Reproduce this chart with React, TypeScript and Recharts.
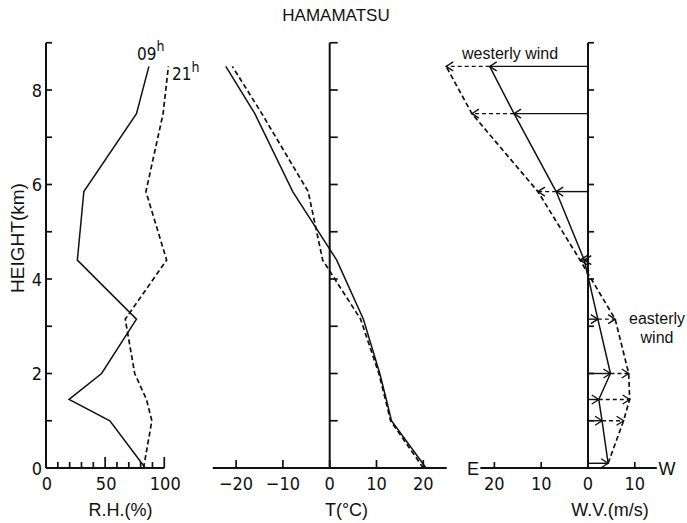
import React from 'react';
import { ScatterChart, Scatter, XAxis, YAxis, ReferenceLine } from 'recharts';

// sounding levels (km)
const levels = [0, 1, 1.45, 2, 3.15, 4.4, 5.85, 7.5, 8.5];
const windLevels = [0.1, 1, 1.45, 2, 3.15, 4.4, 5.85, 7.5, 8.5];

// relative humidity (%)
const rh09 = [84, 54, 19.5, 47, 76.5, 26.5, 32, 76.5, 87];
const rh21 = [82.5, 89.5, 85, 75, 67, 102, 84.5, 99, 103.5];

// temperature (°C)
const t09 = [20.6, 13.2, 12.1, 10.7, 7.2, 1.5, -7.9, -16, -22.2];
const t21 = [20, 13, 11.9, 10.5, 6.6, -1.5, -4.6, -14.5, -20.8];

// wind velocity (m/s), negative = westerly (arrow toward E)
const wv09 = [4.3, 3, 2.3, 4.8, 2.1, -0.8, -6.8, -15.8, -21];
const wv21 = [4.3, 7.6, 8.9, 8.7, 5.8, -1.7, -10.7, -24.8, -30.3];

const heightTicks = [0, 1, 2, 3, 4, 5, 6, 7, 8, 9];
const rhTicks = [0, 10, 20, 30, 40, 50, 60, 70, 80, 90, 100];
const tTicks = [-20, -10, 0, 10, 20];
const wvTicks = [-20, -10, 0, 10];

const INK = '#111';
const NARROW = "'Liberation Sans Narrow', 'DejaVu Sans Condensed', 'Liberation Sans', sans-serif";
const SANS = "'Liberation Sans', Arial, sans-serif";

const pts = (xs: number[], ys: number[]) => xs.map((x, i) => ({ x, y: ys[i] }));

const NoDot = () => <g />;

const fmt = (v: number) => (v < 0 ? `\u2212${Math.abs(v)}` : `${v}`);

// arrowhead at the tip of a wind vector
const Chevron = (props: any) => {
  const { cx, cy, payload } = props;
  const d = payload.dir;
  if (!d || cx == null) return <g />;
  const len = 7;
  const half = 4.5;
  return (
    <path
      d={`M${cx - d * len},${cy - half}L${cx},${cy}L${cx - d * len},${cy + half}`}
      fill="none"
      stroke={INK}
      strokeWidth={1.4}
    />
  );
};

const tickMark = (len: number) => (props: any) => {
  const { cx, cy } = props;
  return <line x1={cx} y1={cy} x2={cx + len} y2={cy} stroke={INK} strokeWidth={1.7} />;
};

const HeightTick = (props: any) => {
  const { x, y, payload } = props;
  const v = payload.value;
  return (
    <g>
      {v > 0 && <line x1={x} y1={y} x2={x + 6} y2={y} stroke={INK} strokeWidth={1.7} />}
      {v % 2 === 0 && v < 9 && (
        <text x={x - 4} y={y} textAnchor="end" dominantBaseline="central" fontFamily={NARROW} fontSize={18} fill={INK}>
          {v}
        </text>
      )}
    </g>
  );
};

const RhTick = (props: any) => {
  const { x, y, payload } = props;
  const v = payload.value;
  const major = v % 50 === 0;
  return (
    <g>
      <line x1={x} y1={y} x2={x} y2={y - (major ? 11 : 6)} stroke={INK} strokeWidth={1.7} />
      {major && (
        <text x={x + 1} y={y + 15} textAnchor="middle" dominantBaseline="central" fontFamily={NARROW} fontSize={18} fill={INK}>
          {v}
        </text>
      )}
    </g>
  );
};

const TTick = (props: any) => {
  const { x, y, payload } = props;
  const v = payload.value;
  return (
    <g>
      <line x1={x} y1={y} x2={x} y2={y - 8} stroke={INK} strokeWidth={1.7} />
      <text x={x} y={y + 15} textAnchor="middle" dominantBaseline="central" fontFamily={NARROW} fontSize={18} fill={INK}>
        {fmt(v)}
      </text>
    </g>
  );
};

const WvTick = (props: any) => {
  const { x, y, payload } = props;
  const v = payload.value;
  return (
    <g>
      <line x1={x} y1={y} x2={x} y2={y - 6} stroke={INK} strokeWidth={1.7} />
      <text x={x} y={y + 15} textAnchor="middle" dominantBaseline="central" fontFamily={NARROW} fontSize={18} fill={INK}>
        {Math.abs(v)}
      </text>
    </g>
  );
};

const solidLine = { stroke: INK, strokeWidth: 1.5 };
const dashedLine = { stroke: INK, strokeWidth: 1.7, strokeDasharray: '5 3' };

const vAxisTicks = heightTicks.filter((h) => h > 0).map((h) => ({ x: 0, y: h }));

const App = () => {
  const wvHeads09 = windLevels.map((h, i) => ({ x: wv09[i], y: h, dir: Math.sign(wv09[i]) }));
  const wvHeads21 = windLevels.map((h, i) => ({
    x: wv21[i],
    y: h,
    dir: Math.abs(wv21[i] - wv09[i]) > 0.5 ? Math.sign(wv21[i] - wv09[i]) : 0,
  }));

  return (
    <div style={{ position: 'absolute', left: 0, top: 0, width: 687, height: 523, background: '#fff' }}>
      {/* R.H. panel */}
      <div style={{ position: 'absolute', left: 0, top: 0 }}>
        <ScatterChart width={200} height={523} margin={{ top: 42.75, right: 23.9, bottom: 25, left: 0 }}>
          <XAxis type="number" dataKey="x" domain={[0, 110]} ticks={rhTicks} interval={0}
            tickSize={0} tickMargin={0} axisLine={false} tick={RhTick} height={30} />
          <YAxis type="number" dataKey="y" domain={[0, 9]} ticks={heightTicks} interval={0}
            tickSize={0} tickMargin={0} width={46} axisLine={{ stroke: INK, strokeWidth: 2 }} tick={HeightTick} />
          <ReferenceLine segment={[{ x: 0, y: 0 }, { x: 100, y: 0 }]} stroke={INK} strokeWidth={2} />
          <Scatter data={pts(rh09, levels)} line={solidLine} shape={NoDot} isAnimationActive={false} />
          <Scatter data={pts(rh21, levels)} line={dashedLine} shape={NoDot} isAnimationActive={false} />
        </ScatterChart>
      </div>

      {/* temperature panel */}
      <div style={{ position: 'absolute', left: 200, top: 0 }}>
        <ScatterChart width={260} height={523} margin={{ top: 42.75, right: 13.3, bottom: 25, left: 12.7 }}>
          <XAxis type="number" dataKey="x" domain={[-25, 25]} ticks={tTicks} interval={0}
            tickSize={0} tickMargin={0} axisLine={{ stroke: INK, strokeWidth: 2 }} tick={TTick} height={30} />
          <YAxis type="number" dataKey="y" domain={[0, 9]} hide />
          <ReferenceLine segment={[{ x: 0, y: 0 }, { x: 0, y: 9 }]} stroke={INK} strokeWidth={2} />
          <Scatter data={vAxisTicks} shape={tickMark(8)} isAnimationActive={false} />
          <Scatter data={pts(t09, levels)} line={solidLine} shape={NoDot} isAnimationActive={false} />
          <Scatter data={pts(t21, levels)} line={dashedLine} shape={NoDot} isAnimationActive={false} />
        </ScatterChart>
      </div>

      {/* wind panel */}
      <div style={{ position: 'absolute', left: 430, top: 0 }}>
        <ScatterChart width={257} height={523} margin={{ top: 42.75, right: 24.1, bottom: 25, left: 8.2 }}>
          <XAxis type="number" dataKey="x" domain={[-32, 16]} ticks={wvTicks} interval={0}
            tickSize={0} tickMargin={0} axisLine={false} tick={WvTick} height={30} />
          <YAxis type="number" dataKey="y" domain={[0, 9]} hide />
          <ReferenceLine segment={[{ x: -23, y: 0 }, { x: 14.7, y: 0 }]} stroke={INK} strokeWidth={2} />
          <ReferenceLine segment={[{ x: 0, y: 0 }, { x: 0, y: 9 }]} stroke={INK} strokeWidth={2} />
          <Scatter data={vAxisTicks} shape={tickMark(6)} isAnimationActive={false} />
          {windLevels.map((h, i) => (
            <ReferenceLine key={`s${i}`} segment={[{ x: 0, y: h }, { x: wv09[i], y: h }]} stroke={INK} strokeWidth={1.4} />
          ))}
          {windLevels.map((h, i) => (
            <ReferenceLine key={`d${i}`} segment={[{ x: wv09[i], y: h }, { x: wv21[i], y: h }]}
              stroke={INK} strokeWidth={1.4} strokeDasharray="4 3" />
          ))}
          <Scatter data={wvHeads09} shape={Chevron} isAnimationActive={false} />
          <Scatter data={wvHeads21} shape={Chevron} isAnimationActive={false} />
          <Scatter data={pts(wv09, windLevels)} line={solidLine} shape={NoDot} isAnimationActive={false} />
          <Scatter data={pts(wv21, windLevels)} line={dashedLine} shape={NoDot} isAnimationActive={false} />
        </ScatterChart>
      </div>

      {/* titles and annotations */}
      <svg width={687} height={523} style={{ position: 'absolute', left: 0, top: 0, pointerEvents: 'none' }}>
        <g fill={INK}>
          <text x={336} y={20.5} textAnchor="middle" fontFamily={SANS} fontSize={17}>HAMAMATSU</text>
          <text x={17} y={238} textAnchor="middle" dominantBaseline="central" fontFamily={SANS} fontSize={19}
            transform="rotate(-90 17 238)">HEIGHT(km)</text>
          <text x={120.5} y={510} textAnchor="middle" dominantBaseline="central" fontFamily={SANS} fontSize={18}>R.H.(%)</text>
          <text x={346.5} y={510} textAnchor="middle" dominantBaseline="central" fontFamily={SANS} fontSize={18}>T(°C)</text>
          <text x={610} y={510} textAnchor="middle" dominantBaseline="central" fontFamily={SANS} fontSize={18}>W.V.(m/s)</text>
          <text x={137} y={60} fontFamily={NARROW} fontSize={17}>09<tspan dy={-9} fontSize={14}>h</tspan></text>
          <text x={172} y={80} fontFamily={NARROW} fontSize={17}>21<tspan dy={-8} fontSize={14}>h</tspan></text>
          <text x={462} y={59} fontFamily={SANS} fontSize={16}>westerly wind</text>
          <text x={657} y={324} textAnchor="middle" fontFamily={SANS} fontSize={16}>easterly</text>
          <text x={657} y={343} textAnchor="middle" fontFamily={SANS} fontSize={16}>wind</text>
          <text x={473} y={469} textAnchor="middle" dominantBaseline="central" fontFamily={SANS} fontSize={18}>E</text>
          <text x={667} y={469} textAnchor="middle" dominantBaseline="central" fontFamily={SANS} fontSize={18}>W</text>
        </g>
      </svg>
    </div>
  );
};

export default App;
